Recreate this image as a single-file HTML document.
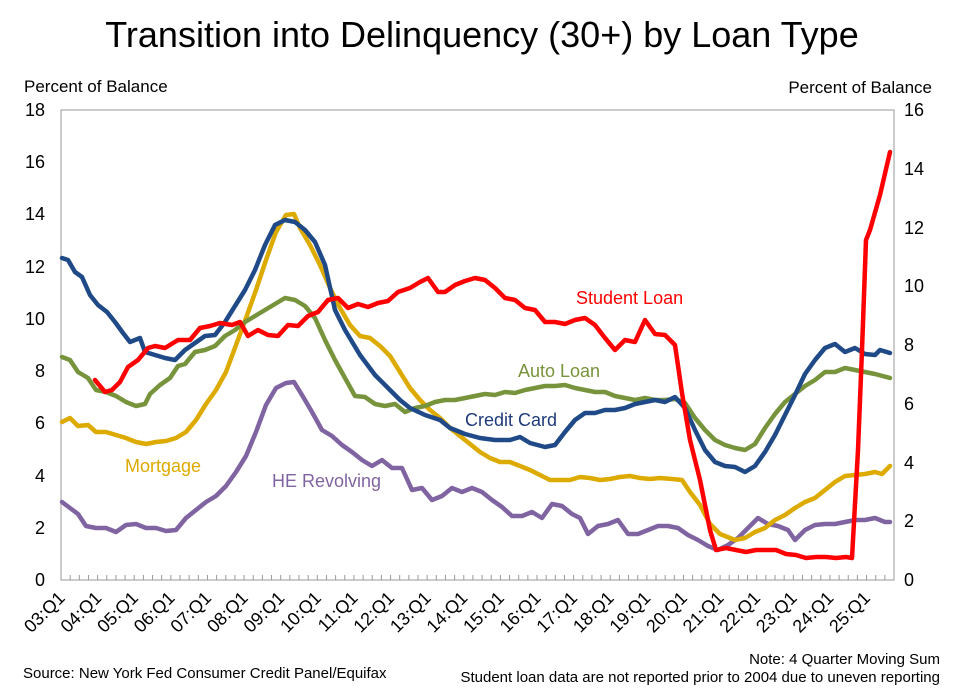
<!DOCTYPE html>
<html><head><meta charset="utf-8"><style>
html,body{margin:0;padding:0;background:#fff;}
svg{display:block;font-family:"Liberation Sans",Arial,sans-serif;}
</style></head><body>
<svg width="960" height="694" viewBox="0 0 960 694" xmlns="http://www.w3.org/2000/svg">
<text x="482" y="47" font-size="36" text-anchor="middle" fill="#000">Transition into Delinquency (30+) by Loan Type</text>
<text x="24" y="92" font-size="17" fill="#000">Percent of Balance</text>
<text x="932" y="93" font-size="17" text-anchor="end" fill="#000">Percent of Balance</text>
<g font-size="18" fill="#000" text-anchor="end">
<text x="45" y="116">18</text><text x="45" y="168">16</text><text x="45" y="220">14</text><text x="45" y="273">12</text><text x="45" y="325">10</text><text x="45" y="377">8</text><text x="45" y="429">6</text><text x="45" y="482">4</text><text x="45" y="534">2</text><text x="45" y="586">0</text>
</g>
<g font-size="18" fill="#000" text-anchor="start">
<text x="904" y="116">16</text><text x="904" y="175">14</text><text x="904" y="234">12</text><text x="904" y="292">10</text><text x="904" y="351">8</text><text x="904" y="410">6</text><text x="904" y="469">4</text><text x="904" y="527">2</text><text x="904" y="586">0</text>
</g>
<rect x="61" y="110" width="833" height="470" fill="none" stroke="#999" stroke-width="1"/>
<g id="ticks" stroke="#999" stroke-width="1"></g>
<g font-size="18" fill="#000" id="xl"></g>
<g fill="none" stroke-width="4.5" stroke-linejoin="round" stroke-linecap="round">
<polyline stroke="#8064A2" points="62,502 70,508 78,514 86,526 96,528 106,528 116,532 126,525 136,524 146,528 156,528 166,531 176,530 186,518 196,510 206,502 216,496 226,486 236,472 246,456 256,432 266,405 276,388 286,383 294,382 302,395 312,412 322,430 332,436 342,445 352,452 362,460 372,466 382,460 392,468 402,468 412,490 422,488 432,500 442,496 452,488 462,492 472,488 482,492 492,500 502,507 512,516 522,516 532,512 542,518 552,504 562,506 572,514 580,518 588,534 598,526 608,524 618,520 628,534 638,534 648,530 658,526 668,526 678,528 688,535 698,540 708,546 718,550 728,545 738,538 748,528 758,518 768,524 778,526 788,530 795,540 805,530 815,525 825,524 835,524 845,522 855,520 865,520 875,518 885,522 890,522"/>
<polyline stroke="#DDAA00" points="62,422 70,418 78,426 88,425 96,432 106,432 116,435 126,438 136,442 146,444 156,442 166,441 176,438 186,432 196,420 206,404 216,390 226,372 236,345 246,318 256,290 266,260 276,232 286,215 294,214 300,228 310,245 320,265 330,288 340,308 350,325 360,336 370,338 380,346 390,356 400,372 410,388 420,400 430,410 440,418 450,428 460,436 470,444 480,452 490,458 500,462 510,462 520,466 530,470 540,475 550,480 560,480 570,480 580,477 590,478 600,480 610,479 620,477 630,476 640,478 650,479 660,478 672,479 682,480 690,492 700,505 710,524 720,534 735,540 745,538 755,532 765,528 775,520 785,515 795,508 805,502 815,498 825,490 835,482 845,476 855,475 865,474 875,472 882,474 890,466"/>
<polyline stroke="#77933C" points="62,357 70,360 78,372 88,378 96,390 106,392 116,396 126,402 136,406 145,404 150,394 160,385 170,378 178,366 185,364 195,352 205,350 215,346 225,336 235,330 245,322 255,316 265,310 275,304 285,298 295,300 305,306 315,318 325,340 335,360 345,378 355,396 365,397 375,404 385,406 395,404 405,412 415,408 425,406 435,402 445,400 455,400 465,398 475,396 485,394 495,395 505,392 515,393 525,390 535,388 545,386 555,386 565,385 575,388 585,390 595,392 605,392 615,396 625,398 635,400 645,398 655,400 665,400 675,399 685,403 695,418 705,430 715,440 725,445 735,448 745,450 755,444 765,428 775,414 785,402 795,394 805,386 815,380 825,372 835,372 845,368 855,370 865,372 875,374 890,378"/>
<polyline stroke="#1F4A87" points="62,258 68,260 75,272 82,277 90,295 98,305 107,312 115,322 123,333 130,342 140,338 145,352 155,355 165,358 175,360 185,350 195,343 205,336 215,335 225,322 235,306 245,290 255,270 265,245 275,225 285,220 295,222 305,230 315,242 325,265 335,310 345,330 360,355 375,375 390,390 400,400 410,408 425,415 440,420 450,428 465,434 480,438 495,440 510,440 520,437 530,443 545,447 555,445 565,432 575,420 585,413 595,413 605,410 615,410 625,408 635,404 645,402 655,400 665,402 675,397 685,408 695,430 705,450 715,462 725,466 735,467 745,472 755,466 765,452 775,435 785,415 795,395 805,374 815,360 825,348 835,344 845,352 855,348 865,354 875,355 880,350 890,353"/>
<polyline stroke="#FF0000" points="95,380 105,392 112,390 120,382 128,367 138,360 148,348 155,346 165,348 178,340 190,340 200,328 210,326 220,323 232,325 240,322 248,336 258,330 268,335 278,336 288,325 298,326 308,316 318,312 328,300 338,298 348,308 358,304 368,307 378,303 388,301 398,292 410,288 420,282 428,278 438,292 445,292 455,285 465,281 475,278 485,280 495,288 505,298 515,300 525,308 535,310 545,322 555,322 565,324 575,320 585,318 595,325 605,338 615,350 625,340 635,342 645,320 655,334 665,335 675,345 682,393 690,440 700,480 710,530 716,550 726,548 736,550 746,552 756,550 766,550 776,550 786,554 796,555 806,558 816,557 826,557 836,558 846,557 852,558 858,450 862,350 866,240 870,230 880,195 890,152"/>
</g>
<g font-size="18">
<text x="576" y="304" fill="#FF0000">Student Loan</text>
<text x="518" y="377" fill="#77933C">Auto Loan</text>
<text x="465" y="426" fill="#1F3A7A">Credit Card</text>
<text x="125" y="472" fill="#DDAA00">Mortgage</text>
<text x="272" y="487" fill="#8064A2">HE Revolving</text>
</g>
<text x="23" y="678" font-size="15" fill="#000">Source: New York Fed Consumer Credit Panel/Equifax</text>
<text x="940" y="664" font-size="15" text-anchor="end" fill="#000">Note: 4 Quarter Moving Sum</text>
<text x="940" y="682" font-size="15" text-anchor="end" fill="#000">Student loan data are not reported prior to 2004 due to uneven reporting</text>
<script>
var t=document.getElementById('ticks'),xl=document.getElementById('xl'),ns='http://www.w3.org/2000/svg';
for(var i=0;i<=91;i++){var x=61+i*9.154;var l=document.createElementNS(ns,'line');l.setAttribute('x1',x);l.setAttribute('x2',x);l.setAttribute('y1',575);l.setAttribute('y2',580);t.appendChild(l);}
for(var y=3;y<=25;y++){var x=66+(y-3)*36.6;var tx=document.createElementNS(ns,'text');tx.setAttribute('transform','translate('+x+',599) rotate(-45)');tx.setAttribute('text-anchor','end');tx.textContent=(y<10?'0':'')+y+':Q1';xl.appendChild(tx);}
</script>
</svg>
</body></html>
